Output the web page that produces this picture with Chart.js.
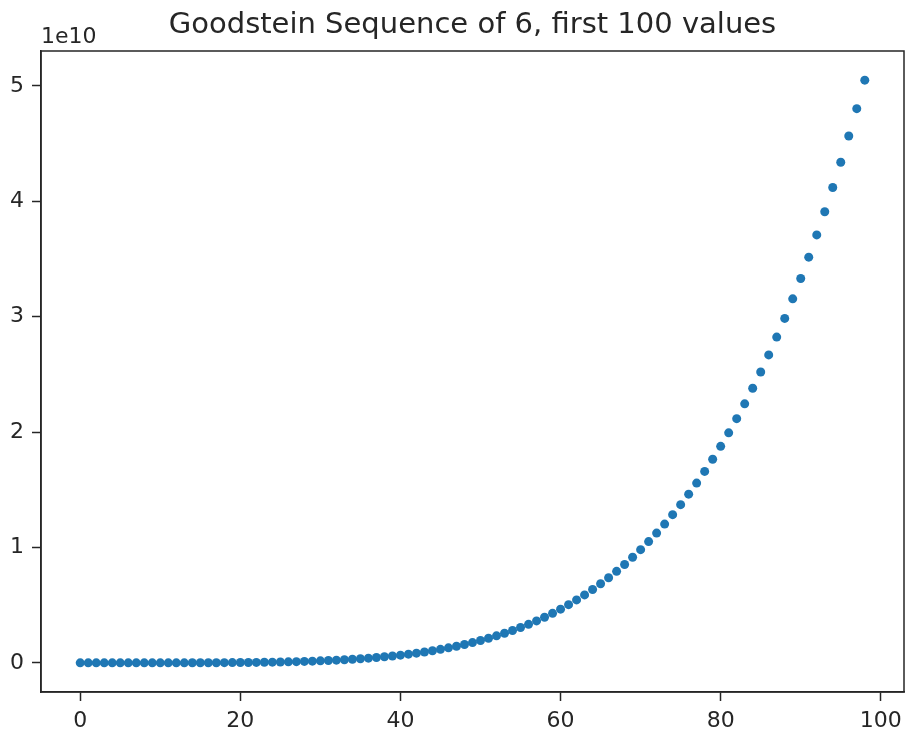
<!DOCTYPE html>
<html>
<head>
<meta charset="utf-8">
<script src="https://cdn.jsdelivr.net/npm/chart.js@4"></script>
<style>
  html, body { margin: 0; padding: 0; background: #fff; }
</style>
</head>
<body>
<canvas id="goodsteinChart" width="905" height="731"></canvas>
<script>
var titleText = 'Goodstein Sequence of 6, first 100 values';
var offsetText = '1e10';

// Goodstein sequence of 6, terms 0..98
var goodsteinValues = [
    6, 29, 257, 3125, 46655, 98039, 187243, 332147, 555551, 885775,
    1357259, 2011165, 2895970, 4068075, 5592400, 7542985, 10003590, 13068295, 16842100, 21441525,
    26995210, 33644515, 41544120, 50862625, 61783150, 74503935, 89238940, 106218445, 125689650, 147917275,
    173184160, 201791865, 234061270, 270333175, 310968900, 356350885, 406883290, 462992595, 525128200, 593763025,
    669394110, 752543215, 843757420, 943609725, 1052699650, 1171653835, 1301126640, 1441800745, 1594387750, 1759628775,
    1938295060, 2131188565, 2339142570, 2563022275, 2803725400, 3062182785, 3339358990, 3636252895, 3953898300, 4293364525,
    4655757010, 5042217915, 5453926720, 5892100825, 6357996150, 6852907735, 7378170340, 7935159045, 8525289850, 9150020275,
    9810849960, 10509321265, 11247019870, 12025575375, 12846661900, 13711998685, 14623350690, 15582529195, 16591392400, 17651846025,
    18765843910, 19935388615, 21162532020, 22449375925, 23798072650, 25210825635, 26689890040, 28237573345, 29856235950, 31548291775,
    33316208860, 35162509965, 37089773170, 39100632475, 41197778400, 43383958585, 45661978390, 48034701495, 50505050500
];

var xTicks = [0, 20, 40, 60, 80, 100];
var yTicks = [0, 1e10, 2e10, 3e10, 4e10, 5e10];

var points = goodsteinValues.map(function (v, i) {
    return { x: i, y: v };
});

var fontFamily = "'DejaVu Sans', sans-serif";
var inkColor = '#262626';

// matplotlib style: full box around the axes and the offset text
var framePlugin = {
    id: 'frame',
    afterDraw: function (chart) {
        var ctx = chart.ctx;
        var a = chart.chartArea;
        ctx.save();
        ctx.strokeStyle = inkColor;
        ctx.lineWidth = 1.5;
        ctx.strokeRect(a.left, a.top, a.right - a.left, a.bottom - a.top);
        ctx.fillStyle = inkColor;
        ctx.font = '22px ' + fontFamily;
        ctx.textAlign = 'left';
        ctx.textBaseline = 'alphabetic';
        ctx.fillText(offsetText, a.left, a.top - 8);
        ctx.restore();
    }
};

var ctx = document.getElementById('goodsteinChart').getContext('2d');
var chart = new Chart(ctx, {
    type: 'scatter',
    data: {
        datasets: [{
            label: 'Goodstein(6)',
            data: points,
            backgroundColor: '#1f77b4',
            borderWidth: 0,
            pointRadius: 4.5,
            pointHoverRadius: 4.5
        }]
    },
    options: {
        responsive: false,
        animation: false,
        layout: { autoPadding: false, padding: { left: 0, right: 1, top: 0, bottom: 0 } },
        plugins: {
            legend: { display: false },
            tooltip: { enabled: false },
            title: {
                display: true,
                fullSize: false,
                text: titleText,
                color: inkColor,
                font: { family: fontFamily, size: 29, weight: 'normal', lineHeight: 1.2 },
                padding: { top: 8.5, bottom: 7.7 }
            }
        },
        scales: {
            x: {
                type: 'linear',
                min: -4.9,
                max: 102.9,
                afterBuildTicks: function (scale) {
                    scale.ticks = xTicks.map(function (v) { return { value: v }; });
                },
                afterFit: function (scale) {
                    scale.height = 39;
                    scale.paddingLeft = 0;
                    scale.paddingRight = 0;
                },
                grid: { drawOnChartArea: false, tickLength: 9, tickColor: inkColor, tickWidth: 1.5 },
                border: { color: inkColor, width: 1.5 },
                ticks: {
                    color: inkColor,
                    padding: 7,
                    maxRotation: 0,
                    font: { family: fontFamily, size: 22 },
                    callback: function (v) { return v; }
                }
            },
            y: {
                type: 'linear',
                min: -2.52525e9,
                max: 5.30303e10,
                afterBuildTicks: function (scale) {
                    scale.ticks = yTicks.map(function (v) { return { value: v }; });
                },
                afterFit: function (scale) {
                    scale.width = 41;
                    scale.paddingTop = 0;
                    scale.paddingBottom = 0;
                },
                grid: { drawOnChartArea: false, tickLength: 9, tickColor: inkColor, tickWidth: 1.5 },
                border: { color: inkColor, width: 1.5 },
                ticks: {
                    color: inkColor,
                    padding: 8,
                    font: { family: fontFamily, size: 22 },
                    callback: function (v) { return Math.round(v / 1e10); }
                }
            }
        }
    },
    plugins: [framePlugin]
});
</script>
</body>
</html>
